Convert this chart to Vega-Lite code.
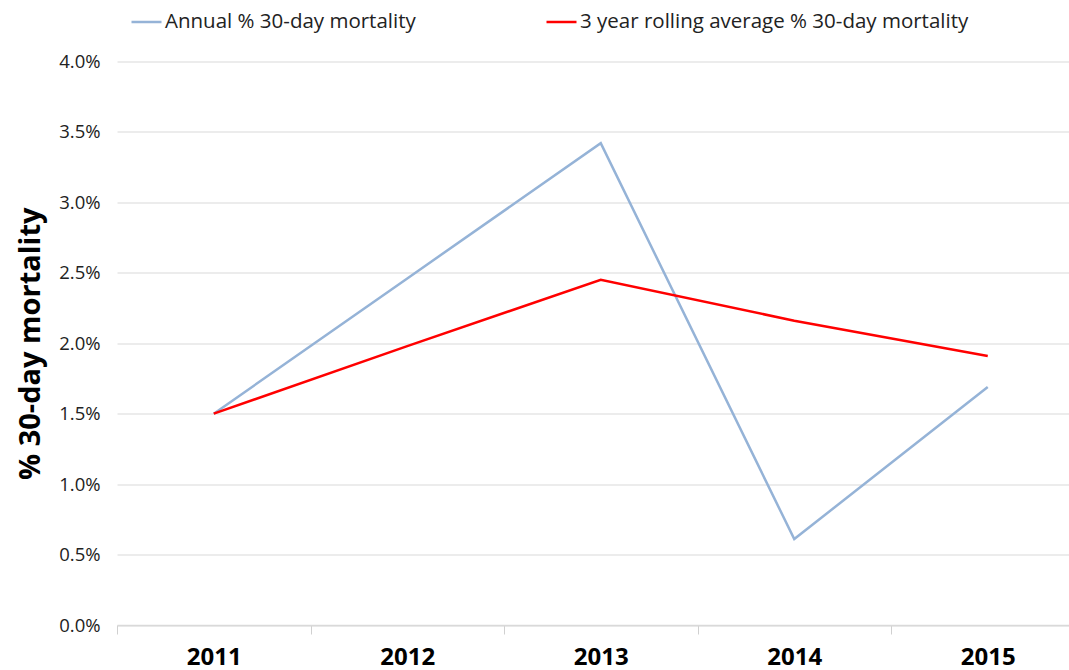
{
  "$schema": "https://vega.github.io/schema/vega-lite/v6.json",
  "autosize": {"type": "none"},
  "padding": {"left": 117, "top": 61.5, "right": 0, "bottom": 45},
  "width": 952,
  "height": 563.5,
  "background": "white",
  "config": {
    "view": {"stroke": null},
    "font": "Open Sans"
  },
  "data": {
    "values": [
      {"year": "2011", "series": "Annual % 30-day mortality", "value": 0.0150},
      {"year": "2012", "series": "Annual % 30-day mortality", "value": 0.0246},
      {"year": "2013", "series": "Annual % 30-day mortality", "value": 0.0342},
      {"year": "2014", "series": "Annual % 30-day mortality", "value": 0.0061},
      {"year": "2015", "series": "Annual % 30-day mortality", "value": 0.0169},
      {"year": "2011", "series": "3 year rolling average % 30-day mortality", "value": 0.0150},
      {"year": "2012", "series": "3 year rolling average % 30-day mortality", "value": 0.0198},
      {"year": "2013", "series": "3 year rolling average % 30-day mortality", "value": 0.0245},
      {"year": "2014", "series": "3 year rolling average % 30-day mortality", "value": 0.0216},
      {"year": "2015", "series": "3 year rolling average % 30-day mortality", "value": 0.0191}
    ]
  },
  "mark": {"type": "line", "strokeWidth": 2.5},
  "encoding": {
    "x": {
      "field": "year",
      "type": "ordinal",
      "scale": {"type": "band", "paddingInner": 0, "paddingOuter": 0, "range": [0, 967.5]},
      "axis": {
        "title": null,
        "labelAngle": 0,
        "labelFont": "Open Sans",
        "labelFontWeight": "bold",
        "labelFontSize": 24,
        "labelColor": "#000000",
        "labelPadding": 11,
        "tickBand": "extent",
        "tickColor": "#d0d0d0",
        "tickSize": 9,
        "domainColor": "#d9d9d9",
        "domainWidth": 1.5,
        "grid": false
      }
    },
    "y": {
      "field": "value",
      "type": "quantitative",
      "scale": {"domain": [0, 0.04], "nice": false},
      "axis": {
        "title": "% 30-day mortality",
        "titleFont": "Open Sans",
        "titleFontSize": 29,
        "titleFontWeight": "bold",
        "titleColor": "#000000",
        "titlePadding": 13,
        "format": ".1%",
        "values": [0, 0.005, 0.01, 0.015, 0.02, 0.025, 0.03, 0.035, 0.04],
        "labelFont": "Open Sans",
        "labelFontSize": 18.5,
        "labelColor": "#222222",
        "labelPadding": 17,
        "ticks": false,
        "domain": false,
        "grid": true,
        "gridColor": "#d9d9d9",
        "gridWidth": 1.2
      }
    },
    "color": {
      "field": "series",
      "type": "nominal",
      "sort": ["Annual % 30-day mortality", "3 year rolling average % 30-day mortality"],
      "scale": {
        "domain": ["Annual % 30-day mortality", "3 year rolling average % 30-day mortality"],
        "range": ["#95b3d7", "#ff0000"]
      },
      "legend": {
        "title": null,
        "orient": "none",
        "legendX": 13,
        "legendY": -56,
        "direction": "horizontal",
        "symbolType": "stroke",
        "symbolSize": 900,
        "symbolStrokeWidth": 2.5,
        "labelFont": "Open Sans",
        "labelFontSize": 20.5,
        "labelColor": "#222222",
        "labelOffset": 2,
        "labelLimit": 600,
        "columnPadding": 125
      }
    }
  }
}
